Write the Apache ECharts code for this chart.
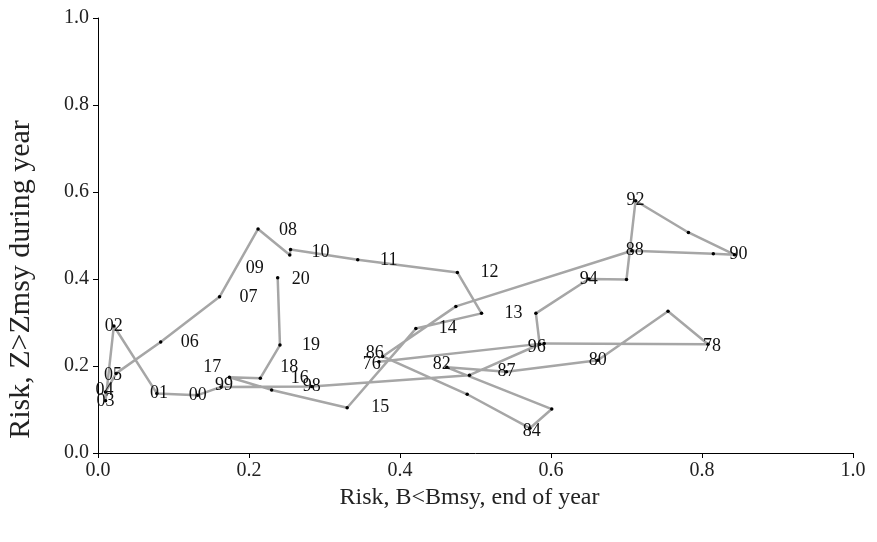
<!DOCTYPE html>
<html>
<head>
<meta charset="utf-8">
<script src="https://cdn.jsdelivr.net/npm/echarts@6/dist/echarts.min.js"></script>
<style>
  html, body { margin: 0; padding: 0; background: #fff; }
  #riskChart { width: 877px; height: 542px; }
</style>
</head>
<body>
<div id="riskChart"></div>
<script>
// 1976..2020, in time order
const years = ['1976','1977','1978','1979','1980','1981','1982','1983','1984','1985','1986',
  '1987','1988','1989','1990','1991','1992','1993','1994','1995','1996','1997',
  '1998','1999','2000','2001','2002','2003','2004','2005','2006','2007','2008','2009','2010',
  '2011','2012','2013','2014','2015','2016','2017','2018','2019','2020']
// text written next to each point (as in the figure)
const pointLabels = ['76','','78','','80','87','82','','84','','86',
  '','88','','90','','92','','94','','96','',
  '98','99','00','01','02','03','04','05','06','07','08','09','10',
  '11','12','13','14','15','16','17','18','19','20']
// Risk, B<Bmsy, end of year
const riskB = [0.372,0.591,0.808,0.755,0.662,0.541,0.462,0.601,0.572,0.489,0.377,
  0.474,0.707,0.815,0.843,0.782,0.712,0.700,0.650,0.580,0.585,0.492,
  0.283,0.163,0.132,0.078,0.021,0.010,0.010,0.024,0.083,0.161,0.212,0.254,0.255,
  0.344,0.476,0.508,0.421,0.330,0.230,0.174,0.215,0.241,0.238]
// Risk, Z>Zmsy during year
const riskZ = [0.210,0.252,0.250,0.326,0.213,0.187,0.197,0.101,0.057,0.135,0.222,
  0.337,0.465,0.458,0.456,0.507,0.580,0.399,0.400,0.321,0.250,0.179,
  0.153,0.152,0.133,0.137,0.292,0.120,0.140,0.183,0.255,0.359,0.515,0.455,0.468,
  0.444,0.415,0.321,0.286,0.104,0.145,0.174,0.172,0.248,0.403]
const axisTicks = [0, 0.2, 0.4, 0.6, 0.8, 1.0]

// where each label sits relative to its point (px)
const labelShift = {
  '76': [-7, 3], '78': [4, 2], '82': [-5, -3], '84': [2, 3], '86': [-8, -3],
  '88': [3, 0], '90': [4, 0], '96': [-3, 3], '99': [3, -2], '01': [2, 0],
  '04': [-1, -2], '05': [-3, 2], '06': [29, 0], '07': [29, 0], '08': [30, 1],
  '09': [-35, 13], '10': [30, 3], '11': [31, 0], '12': [32, 0], '13': [32, 0],
  '14': [32, 0], '15': [33, 0], '16': [28, -12], '17': [-17, -10], '18': [29, -11],
  '19': [31, 0], '20': [23, 2]
}

const serif = 'Liberation Serif'
const points = years.map((y, i) => ({
  name: y,
  value: [riskB[i], riskZ[i]],
  label: { offset: labelShift[pointLabels[i]] || [0, 0] }
}))

const chart = echarts.init(document.getElementById('riskChart'))
chart.setOption({
  animation: false,
  grid: { left: 98, right: 24, top: 18, bottom: 89, containLabel: false, outerBoundsMode: 'none' },
  xAxis: {
    type: 'value',
    min: axisTicks[0],
    max: axisTicks[axisTicks.length - 1],
    interval: 0.2,
    name: 'Risk, B<Bmsy, end of year',
    nameLocation: 'middle',
    nameGap: 30,
    nameTextStyle: { fontFamily: serif, fontSize: 24, color: '#222', padding: [0, 12, 0, 0] },
    axisLine: { lineStyle: { color: '#000', width: 1 } },
    axisTick: { length: 5, lineStyle: { color: '#000' } },
    axisLabel: { fontFamily: serif, fontSize: 20, color: '#222', margin: 8,
      formatter: v => v.toFixed(1) },
    splitLine: { show: false }
  },
  yAxis: {
    type: 'value',
    min: axisTicks[0],
    max: axisTicks[axisTicks.length - 1],
    interval: 0.2,
    name: 'Risk, Z>Zmsy during year',
    nameLocation: 'middle',
    nameGap: 62,
    // pushed a little below the middle, as in the figure
    nameTextStyle: { fontFamily: serif, fontSize: 30, color: '#222', padding: [0, 88, 0, 0] },
    axisLine: { show: true, lineStyle: { color: '#000', width: 1 } },
    axisTick: { show: true, length: 5, lineStyle: { color: '#000' } },
    axisLabel: { fontFamily: serif, fontSize: 20, color: '#222', margin: 9,
      formatter: v => v.toFixed(1) },
    splitLine: { show: false }
  },
  series: [{
    type: 'line',
    data: points,
    showAllSymbol: true,
    symbol: 'circle',
    symbolSize: 3.5,
    itemStyle: { color: '#000' },
    lineStyle: { color: '#a6a6a6', width: 2.5 },
    label: {
      show: true,
      position: 'inside',
      fontFamily: serif,
      fontSize: 18,
      color: '#111',
      formatter: p => pointLabels[p.dataIndex]
    },
    emphasis: { disabled: true },
    z: 2
  }]
})
</script>
</body>
</html>
